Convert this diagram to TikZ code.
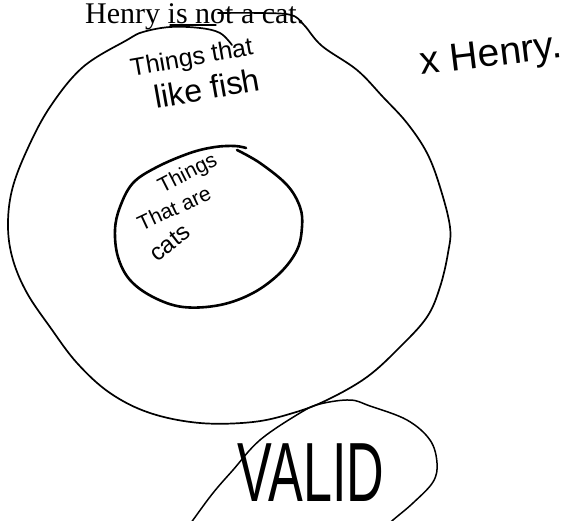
\documentclass[tikz,border=0pt]{standalone}
\usepackage{fontspec}
\setmainfont{Liberation Serif}
\newfontfamily\handfont{Liberation Sans}
\begin{document}
\begin{tikzpicture}[x=1pt,y=-1pt, line join=round, line cap=round,
    hand/.style={font=\handfont, inner sep=0pt},
    pen/.style={line width=1.7pt}]
    \useasboundingbox (0,0) rectangle (570,520);
    \clip (0,0) rectangle (570,520);
    \node (claim) at (85,23)[anchor=base west, inner sep=0pt, font=\fontsize{30}{30}\selectfont]{Henry is not a cat.};
    \draw[line width=1.2pt] (170,25)--(216,25);
    \draw[pen] plot[smooth,tension=0.6] coordinates {(218,13) (260,13) (291,15) (304,25) (322,46) (357,70) (383,97) (407,123) (427,153) (440,187) (450,227) (448,253) (440,287) (427,317) (400,347) (367,377) (327,400) (293,413) (253,422) (200,423) (150,413) (110,393) (77,363) (50,327) (27,293) (13,260) (8,227) (12,190) (27,150) (50,107) (83,67) (127,40) (143,32) (170,27) (200,28) (220,33) (232,45)};
    \draw[line width=2.6pt] plot[smooth,tension=0.6] coordinates {(237,150) (260,163) (287,185) (300,207) (302,227) (297,250) (280,273) (253,293) (220,305) (183,307) (153,297) (130,280) (118,257) (115,230) (120,207) (133,183) (157,167) (190,153) (215,147) (235,146) (246,148)};
    \draw[line width=1.5pt] plot[smooth,tension=0.6] coordinates {(175,545) (193,520) (213,493) (233,470) (260,440) (300,413) (320,404) (350,400) (370,406) (407,420) (430,440) (437,463) (433,482) (413,503) (393,520) (370,540)};
    \node (fish1) at (192,59)[hand, rotate=10, font=\handfont\fontsize{25}{26}\selectfont]{Things that};
    \node (fish2) at (207,88)[hand, rotate=10, font=\handfont\fontsize{32}{32}\selectfont]{like fish};
    \node (cats1) at (188,174)[hand, rotate=27, font=\handfont\fontsize{21}{23}\selectfont]{Things};
    \node (cats2) at (174,208)[hand, rotate=25, font=\handfont\fontsize{21}{23}\selectfont]{That are};
    \node (cats3) at (170,243)[hand, rotate=38, font=\handfont\fontsize{24}{26}\selectfont]{cats};
    \node (henry) at (491,57)[hand, rotate=7, font=\handfont\fontsize{39}{40}\selectfont]{x Henry.};
    \node (valid) at (311,473)[hand, xscale=0.62, font=\handfont\fontsize{84}{86}\selectfont]{VALID};
\end{tikzpicture}
\end{document}
